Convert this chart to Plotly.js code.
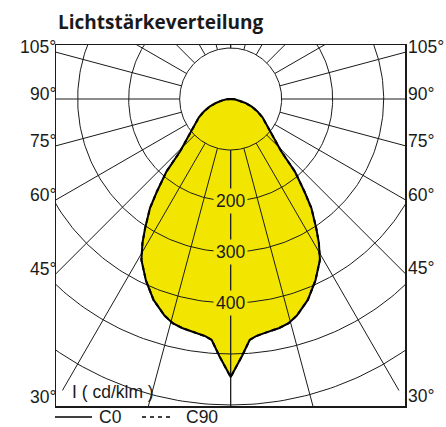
<!DOCTYPE html>
<html><head><meta charset="utf-8">
<script src="https://cdn.plot.ly/plotly-3.0.1.min.js"></script>
<style>html,body{margin:0;padding:0;background:#fff}#chart{width:446px;height:427px}</style>
</head><body><div id="chart"></div>
<script>
// Luminous intensity distribution (cd/klm), gamma from nadir
const gammaDeg = [0, 2.5, 4.5, 6, 8, 12, 14.5, 17, 21, 25, 29, 31.5, 33.5, 36.5, 38.5, 41.5, 44, 48, 52, 56, 60, 65, 70, 75, 80, 85, 90];
const c0Values  = [545, 505, 474, 468, 464, 459, 454, 444, 422, 393, 361, 331, 304, 266, 233, 190, 143, 115, 93, 82, 72, 58, 44, 30, 18, 8, 0];
const c90Values = [545, 505, 474, 468, 464, 459, 454, 444, 422, 393, 361, 331, 304, 266, 233, 190, 143, 115, 93, 82, 72, 58, 44, 30, 18, 8, 0];

const ringValues = [100, 200, 300, 400, 500, 600];
const ringLabelValues = [200, 300, 400];
const spokeAngles = [0, 15, 30, 45, 60, 75, 90, 105, 120, 135, 150, 165, 180];
const sideLabelAngles = [30, 45, 60, 75, 90, 105];
const sideLabels = ['30°', '45°', '60°', '75°', '90°', '105°'];
const unitLabel = 'I ( cd/klm )';
const titleText = 'Lichtstärkeverteilung';
const seriesNames = ['C0', 'C90'];

const XR = [-342.5, 341.8], YR = [-602, 105.9];
const spokeInner = 100, spokeOuter = 660;
const yellow = '#f2e600';
const rad = d => d * Math.PI / 180;

function outline(vals) {
  const x = [], y = [];
  for (let i = gammaDeg.length - 1; i >= 0; i--) {
    x.push(-vals[i] * Math.sin(rad(gammaDeg[i]))); y.push(-vals[i] * Math.cos(rad(gammaDeg[i])));
  }
  for (let i = 1; i < gammaDeg.length; i++) {
    x.push(vals[i] * Math.sin(rad(gammaDeg[i]))); y.push(-vals[i] * Math.cos(rad(gammaDeg[i])));
  }
  return {x, y};
}

const gx = [], gy = [];
ringValues.forEach(r => {
  for (let a = 0; a <= 360; a += 1) { gx.push(r * Math.sin(rad(a))); gy.push(-r * Math.cos(rad(a))); }
  gx.push(null); gy.push(null);
});
spokeAngles.forEach(a => {
  [1, -1].forEach(s => {
    gx.push(s * spokeInner * Math.sin(rad(a)), s * spokeOuter * Math.sin(rad(a)), null);
    gy.push(-spokeInner * Math.cos(rad(a)), -spokeOuter * Math.cos(rad(a)), null);
  });
});

const o0 = outline(c0Values), o90 = outline(c90Values);
const traces = [
  {x: o0.x, y: o0.y, type: 'scatter', mode: 'lines', fill: 'toself', fillcolor: yellow, line: {width: 0, color: yellow}, showlegend: false, hoverinfo: 'skip'},
  {x: gx, y: gy, type: 'scatter', mode: 'lines', line: {color: '#1a1a1a', width: 1}, showlegend: false, hoverinfo: 'skip'},
  {x: o0.x, y: o0.y, type: 'scatter', mode: 'lines', name: seriesNames[0], line: {color: '#000', width: 2}, showlegend: false},
  {x: o90.x, y: o90.y, type: 'scatter', mode: 'lines', name: seriesNames[1], line: {color: '#000', width: 2, dash: '4px,4px'}, showlegend: false}
];

const font = {family: 'Liberation Sans, Arial, sans-serif', size: 17.5, color: '#1a1a1a'};
const annotations = [];
sideLabelAngles.forEach((a, i) => {
  const cot = Math.cos(rad(a)) / Math.sin(rad(a));
  annotations.push({xref: 'paper', yref: 'y', x: 0, y: XR[0] * cot, text: sideLabels[i], showarrow: false, xanchor: 'right', yanchor: 'middle', yshift: 5, xshift: 2, font});
  annotations.push({xref: 'paper', yref: 'y', x: 1, y: -XR[1] * cot, text: sideLabels[i], showarrow: false, xanchor: 'left', yanchor: 'middle', yshift: 5, xshift: 1, font});
});
ringLabelValues.forEach(v => {
  annotations.push({xref: 'x', yref: 'y', x: 0, y: -v, text: String(v), showarrow: false, xanchor: 'center', yanchor: 'middle', bgcolor: yellow, borderpad: 2, font});
});
annotations.push({xref: 'paper', yref: 'paper', x: (73 - 56) / 349, y: (406 - 392) / 361, text: unitLabel, showarrow: false, xanchor: 'left', yanchor: 'middle', xshift: -3, font});
annotations.push({xref: 'paper', yref: 'paper', x: (100 - 56) / 349, y: (406 - 417) / 361, text: seriesNames[0], showarrow: false, xanchor: 'left', yanchor: 'middle', xshift: -3, font});
annotations.push({xref: 'paper', yref: 'paper', x: (187 - 56) / 349, y: (406 - 417) / 361, text: seriesNames[1], showarrow: false, xanchor: 'left', yanchor: 'middle', xshift: -3, font});

const ly = (406 - 417) / 361;
const shapes = [
  {type: 'line', xref: 'paper', yref: 'paper', x0: (55 - 56) / 349, x1: (92 - 56) / 349, y0: ly, y1: ly, line: {color: '#000', width: 1.5}},
  {type: 'line', xref: 'paper', yref: 'paper', x0: (142 - 56) / 349, x1: (174 - 56) / 349, y0: ly, y1: ly, line: {color: '#000', width: 1.5, dash: '4px,4px'}}
];

const layout = {
  width: 446, height: 427,
  margin: {l: 56, r: 41, t: 45, b: 21, pad: 0},
  paper_bgcolor: '#fff', plot_bgcolor: '#fff',
  title: {text: '<b>' + titleText + '</b>', xref: 'container', yref: 'container', x: 58 / 446, xanchor: 'left', y: 1 - 22 / 427, yanchor: 'middle',
          font: {family: 'Open Sans, Liberation Sans, sans-serif', size: 19, color: '#1a1a1a'}},
  xaxis: {range: XR, showgrid: false, zeroline: false, showticklabels: false, ticks: '', showline: true, mirror: true, linecolor: '#1a1a1a', linewidth: 1.5, fixedrange: true},
  yaxis: {range: YR, showgrid: false, zeroline: false, showticklabels: false, ticks: '', showline: true, mirror: true, linecolor: '#1a1a1a', linewidth: 1.5, fixedrange: true},
  showlegend: false,
  annotations, shapes
};
Plotly.newPlot('chart', traces, layout, {staticPlot: true, displayModeBar: false});
</script></body></html>
